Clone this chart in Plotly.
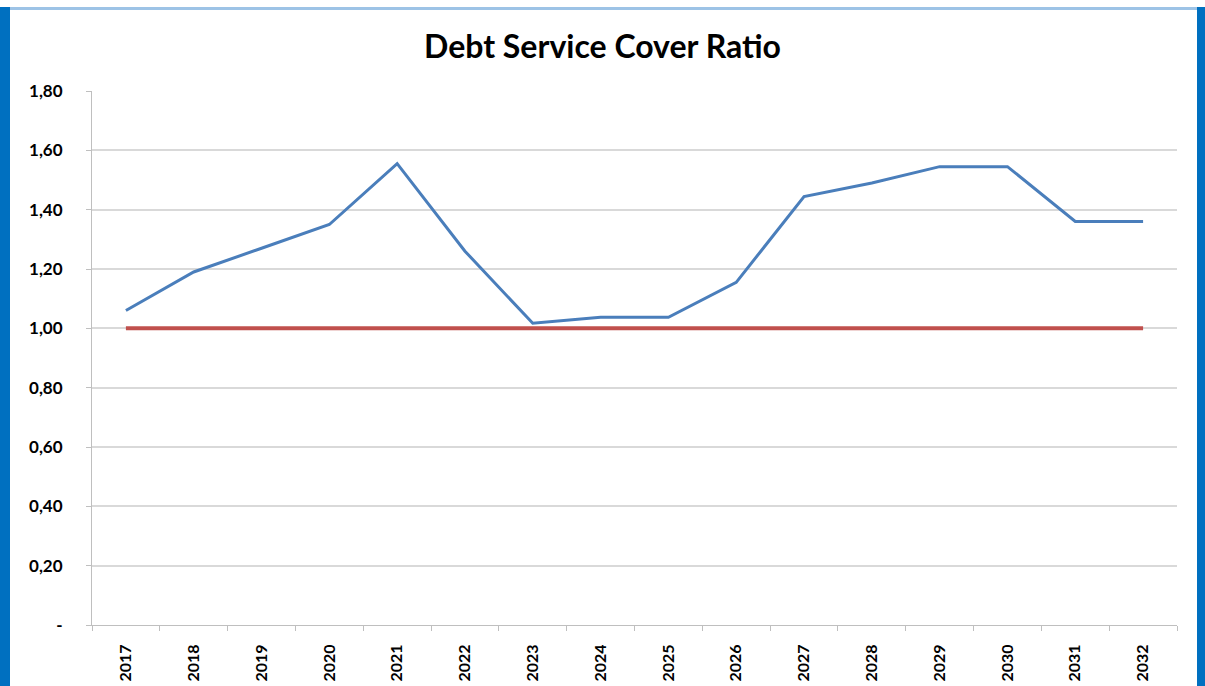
import plotly.graph_objects as go

years = ["2017", "2018", "2019", "2020", "2021", "2022", "2023", "2024",
         "2025", "2026", "2027", "2028", "2029", "2030", "2031", "2032"]
dscr = [1.06, 1.19, 1.27, 1.35, 1.555, 1.26, 1.017, 1.037,
        1.037, 1.155, 1.444, 1.49, 1.545, 1.545, 1.36, 1.36]
threshold = [1.00] * len(years)

y_tickvals = [0, 0.2, 0.4, 0.6, 0.8, 1.0, 1.2, 1.4, 1.6, 1.8]
y_ticktext = ["-", "0,20", "0,40", "0,60", "0,80", "1,00", "1,20", "1,40", "1,60", "1,80"]

W, H = 1205, 686
ml, mr, mt, mb = 92, 28, 91, 61
pw, ph = W - ml - mr, H - mt - mb

def px(x):
    return (x - ml) / pw

def py(y):
    return (H - mb - y) / ph

fig = go.Figure()
fig.add_trace(go.Scatter(x=years, y=threshold, mode="lines",
                         line=dict(color="#c0504d", width=4), showlegend=False))
fig.add_trace(go.Scatter(x=years, y=dscr, mode="lines",
                         line=dict(color="#4a7ebb", width=3), showlegend=False))

font_family = "Lato, 'Open Sans', sans-serif"
fig.update_layout(
    width=W, height=H,
    margin=dict(l=ml, r=mr, t=mt, b=mb, autoexpand=False),
    paper_bgcolor="white", plot_bgcolor="white",
    title=dict(text="<b>Debt Service Cover Ratio</b>", x=0.5, xref="container",
               xanchor="center", y=1 - 47 / H, yanchor="middle",
               font=dict(family=font_family, size=32, color="black")),
    font=dict(family=font_family, color="black"),
    showlegend=False,
    shapes=[
        dict(type="rect", xref="paper", yref="paper", x0=px(0), x1=px(10),
             y0=py(H), y1=py(7), fillcolor="#0070c0", line=dict(width=0), layer="above"),
        dict(type="rect", xref="paper", yref="paper", x0=px(1197), x1=px(W),
             y0=py(H), y1=py(7), fillcolor="#0070c0", line=dict(width=0), layer="above"),
        dict(type="rect", xref="paper", yref="paper", x0=px(10), x1=px(1197),
             y0=py(10), y1=py(7), fillcolor="#9dc3e6", line=dict(width=0), layer="above"),
    ],
)
fig.update_xaxes(
    type="category", range=[-0.5, len(years) - 0.5], automargin=False,
    tickangle=-90, tickfont=dict(size=16, family=font_family, color="black"),
    tickprefix="<b>", ticksuffix="</b>",
    showline=True, linecolor="#bfbfbf", linewidth=1,
    ticks="outside", tickson="boundaries", ticklen=5, tickcolor="#bfbfbf",
    showgrid=False, zeroline=False, ticklabelstandoff=12,
)
fig.update_yaxes(
    range=[0, 1.8], tickvals=y_tickvals, ticktext=["<b>" + t + "</b>" for t in y_ticktext],
    automargin=False,
    tickfont=dict(size=17, family=font_family, color="black"),
    showline=True, linecolor="#bfbfbf", linewidth=1,
    ticks="outside", ticklen=5, tickcolor="#bfbfbf",
    showgrid=True, gridcolor="#d9d9d9", gridwidth=1.5, zeroline=False,
    ticklabelstandoff=20,
)

fig.write_html("out.html", config={"displayModeBar": False},
               post_script="document.body.style.margin='0';document.body.style.overflow='hidden';")
